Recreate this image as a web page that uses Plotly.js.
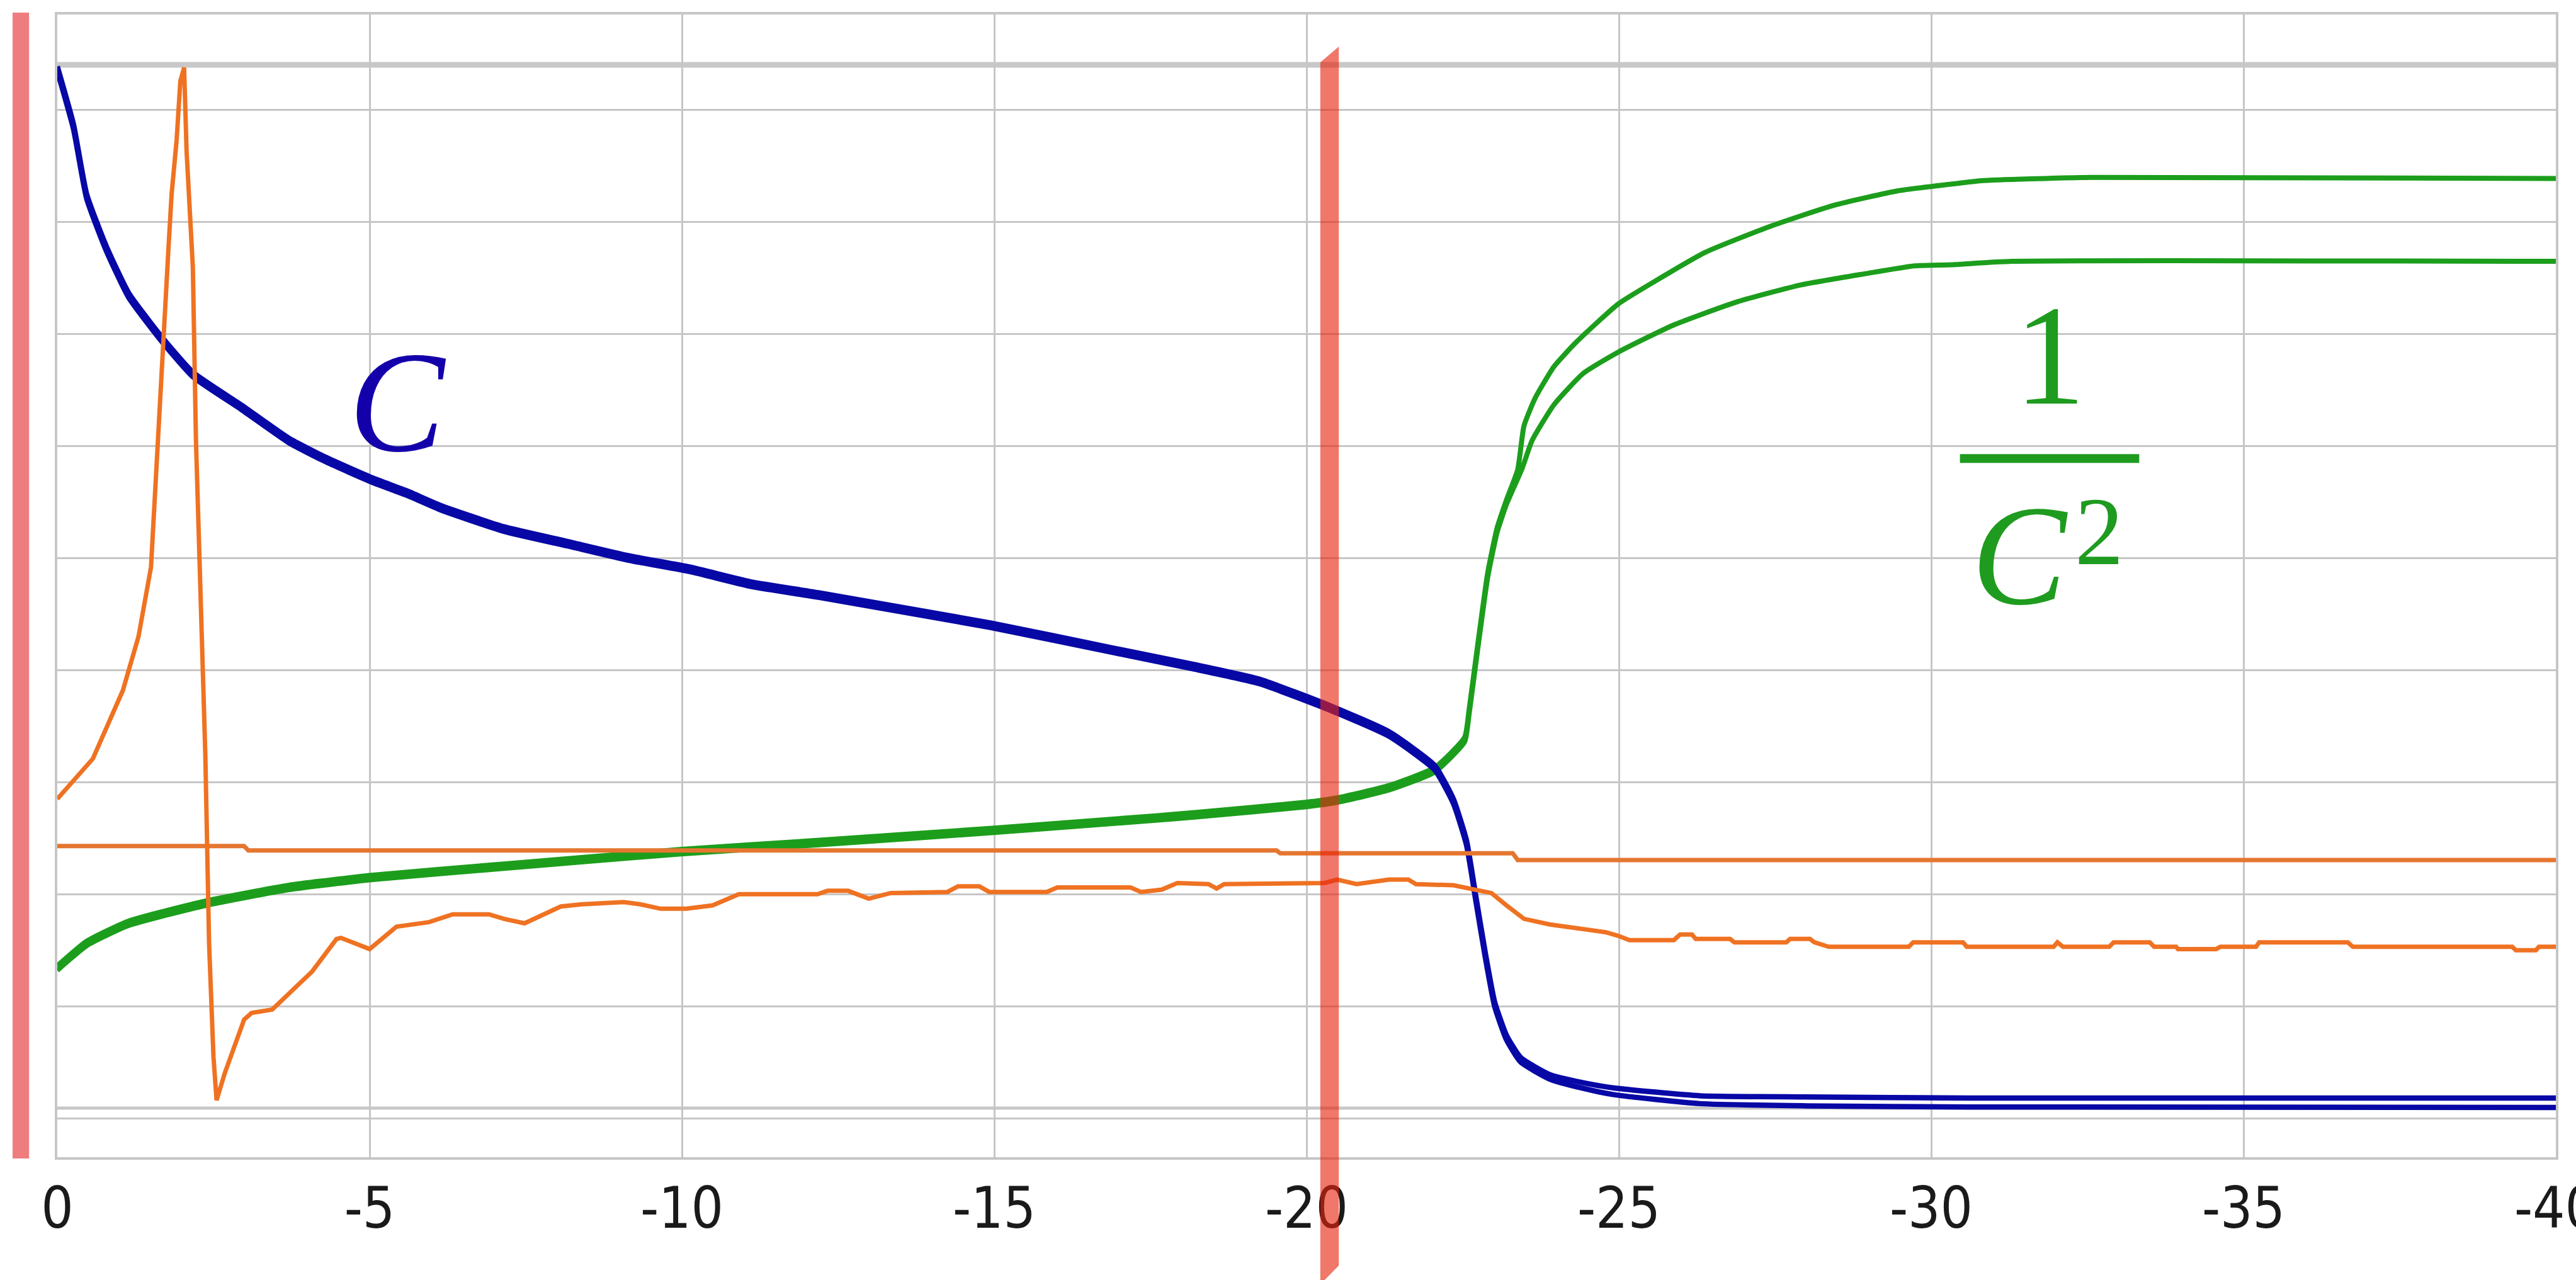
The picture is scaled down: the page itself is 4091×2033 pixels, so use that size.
<!DOCTYPE html>
<html>
<head>
<meta charset="utf-8">
<script src="https://cdn.plot.ly/plotly-3.0.1.min.js"></script>
<style>
  html, body { margin: 0; padding: 0; background: #ffffff; }
  #chart { width: 4091px; height: 2033px; }
</style>
</head>
<body>
<div id="chart"></div>
<script>
// ---------------- data ----------------
// x axis tick positions and labels
const xTicks = [0, -5, -10, -15, -20, -25, -30, -35, -40];
const xTickLabels = ['0', '-5', '-10', '-15', '-20', '-25', '-30', '-35', '-40'];
const yGrid = [0, 1, 2, 3, 4, 5, 6, 7, 8, 9];

// blue "C" curve (two nearly coincident traces)
const xC = [0, -0.26, -0.47, -0.78, -1.14, -1.65, -2.17, -2.94, -3.71, -4.3, -5.03, -5.6, -6.14, -7.15, -8.16, -9.16, -10.13, -11.09, -12.2, -13.02, -14.95, -16.88, -18.2, -19.24, -20.39, -21.32, -22.05, -22.35, -22.56, -22.71, -22.86, -23.01, -23.2, -23.43, -23.89, -24.4, -24.92, -26.3, -28.0, -30.6, -40];
const cUpper = [9.39, 8.87, 8.25, 7.79, 7.37, 6.99, 6.66, 6.37, 6.07, 5.90, 5.72, 5.60, 5.47, 5.28, 5.15, 5.02, 4.92, 4.79, 4.69, 4.61, 4.42, 4.20, 4.05, 3.92, 3.68, 3.45, 3.15, 2.85, 2.48, 1.98, 1.48, 1.04, 0.74, 0.54, 0.39, 0.32, 0.27, 0.20, 0.19, 0.18, 0.18];
const cLower = [9.35, 8.83, 8.21, 7.75, 7.33, 6.95, 6.62, 6.33, 6.03, 5.86, 5.68, 5.56, 5.43, 5.24, 5.11, 4.98, 4.88, 4.75, 4.65, 4.57, 4.38, 4.16, 4.01, 3.88, 3.64, 3.41, 3.11, 2.81, 2.44, 1.94, 1.44, 1.00, 0.70, 0.50, 0.35, 0.27, 0.21, 0.13, 0.11, 0.10, 0.096];

// green "1/C^2" curves (coincide until about -23.4, then split)
const xG1 = [0, -0.47, -1.14, -2.38, -3.71, -5.05, -7.15, -9.99, -12.16, -15.0, -17.59, -18.24, -19.98, -20.49, -21.32, -22.05, -22.53, -22.6, -22.75, -22.9, -23.05, -23.2, -23.38, -23.48, -23.66, -23.96, -24.32, -24.99, -25.57, -26.38, -27.41, -28.44, -29.47, -30.33, -30.8, -32.55, -40];
const g1 = [1.36, 1.58, 1.76, 1.94, 2.08, 2.17, 2.27, 2.40, 2.48, 2.59, 2.70, 2.73, 2.82, 2.86, 2.97, 3.13, 3.40, 3.64, 4.27, 4.87, 5.27, 5.52, 5.79, 6.18, 6.43, 6.71, 6.93, 7.27, 7.47, 7.73, 7.96, 8.15, 8.28, 8.34, 8.37, 8.40, 8.39];
const xG2 = [0, -0.47, -1.14, -2.38, -3.71, -5.05, -7.15, -9.99, -12.16, -15.0, -17.59, -18.24, -19.98, -20.49, -21.32, -22.05, -22.53, -22.6, -22.75, -22.9, -23.05, -23.2, -23.45, -23.61, -23.96, -24.43, -24.99, -25.87, -26.90, -27.92, -28.95, -29.73, -30.33, -31.29, -40];
const g2 = [1.32, 1.54, 1.72, 1.90, 2.04, 2.13, 2.23, 2.36, 2.44, 2.55, 2.66, 2.69, 2.78, 2.82, 2.93, 3.09, 3.36, 3.60, 4.23, 4.83, 5.23, 5.48, 5.80, 6.05, 6.37, 6.65, 6.84, 7.08, 7.29, 7.44, 7.54, 7.61, 7.62, 7.65, 7.65];

// orange curve with the spike
const xO = [0, -0.57, -1.05, -1.3, -1.5, -1.63, -1.68, -1.73, -1.78, -1.83, -1.91, -1.97, -2.03, -2.07, -2.17, -2.22, -2.30, -2.37, -2.40, -2.43, -2.50, -2.55, -2.68, -2.99, -3.11, -3.44, -4.08, -4.47, -4.54, -5.0, -5.43, -5.95, -6.33, -6.91, -7.15, -7.48, -8.06, -8.40, -9.07, -9.33, -9.66, -10.07, -10.49, -10.91, -12.17, -12.33, -12.66, -12.99, -13.34, -14.25, -14.42, -14.76, -14.92, -15.84, -16.01, -17.18, -17.35, -17.68, -17.93, -18.43, -18.56, -18.68, -20.29, -20.49, -20.8, -21.32, -21.63, -21.75, -22.35, -22.61, -22.96, -23.2, -23.48, -23.89, -24.41, -24.79, -24.98, -25.17, -25.88, -25.98, -26.17, -26.23, -26.78, -26.85, -27.68, -27.74, -28.06, -28.13, -28.36, -29.64, -29.71, -30.51, -30.57, -31.96, -32.02, -32.11, -32.85, -32.92, -33.50, -33.57, -33.92, -33.95, -34.56, -34.63, -35.2, -35.25, -36.67, -36.75, -39.3, -39.36, -39.68, -39.73, -40];
const oSpike = [2.85, 3.21, 3.82, 4.30, 4.92, 6.32, 6.72, 7.27, 7.77, 8.25, 8.73, 9.26, 9.38, 8.63, 7.60, 6.05, 4.60, 3.24, 2.40, 1.56, 0.55, 0.16, 0.40, 0.88, 0.94, 0.97, 1.31, 1.60, 1.61, 1.51, 1.71, 1.75, 1.82, 1.82, 1.78, 1.74, 1.89, 1.91, 1.93, 1.91, 1.87, 1.87, 1.90, 2.00, 2.00, 2.03, 2.03, 1.96, 2.01, 2.02, 2.07, 2.07, 2.02, 2.02, 2.06, 2.06, 2.02, 2.04, 2.10, 2.09, 2.05, 2.09, 2.10, 2.13, 2.09, 2.13, 2.13, 2.09, 2.08, 2.05, 2.01, 1.90, 1.78, 1.73, 1.69, 1.66, 1.63, 1.59, 1.59, 1.64, 1.64, 1.60, 1.60, 1.57, 1.57, 1.60, 1.60, 1.57, 1.53, 1.53, 1.57, 1.57, 1.53, 1.53, 1.57, 1.53, 1.53, 1.57, 1.57, 1.53, 1.53, 1.51, 1.51, 1.53, 1.53, 1.57, 1.57, 1.53, 1.53, 1.50, 1.50, 1.53, 1.53];

// nearly flat orange line
const xFlat = [0, -2.99, -3.06, -19.52, -19.58, -23.3, -23.38, -40];
const oFlat = [2.43, 2.43, 2.39, 2.39, 2.365, 2.365, 2.305, 2.305];

// ---------------- chart ----------------
const traces = [
  { x: xG1, y: g1, mode: 'lines', line: { color: '#1c9e1c', width: 8, shape: 'spline', smoothing: 0.5 }, hoverinfo: 'skip' },
  { x: xG2, y: g2, mode: 'lines', line: { color: '#1c9e1c', width: 8, shape: 'spline', smoothing: 0.5 }, hoverinfo: 'skip' },
  { x: xC, y: cUpper, mode: 'lines', line: { color: '#0808a6', width: 8.5, shape: 'spline', smoothing: 0.5 }, hoverinfo: 'skip' },
  { x: xC, y: cLower, mode: 'lines', line: { color: '#0808a6', width: 8.5, shape: 'spline', smoothing: 0.5 }, hoverinfo: 'skip' },
  { x: xFlat, y: oFlat, mode: 'lines', line: { color: '#e57630', width: 7 }, hoverinfo: 'skip' },
  { x: xO, y: oSpike, mode: 'lines', line: { color: '#ef7222', width: 7 }, hoverinfo: 'skip' }
];

const gridGray = '#c6c6c6';
const layout = {
  width: 4091,
  height: 2033,
  margin: { l: 91, r: 32, t: 23, b: 195, pad: 0 },
  paper_bgcolor: '#ffffff',
  plot_bgcolor: '#ffffff',
  showlegend: false,
  xaxis: {
    range: [0, -40],
    tickmode: 'array',
    tickvals: xTicks,
    ticktext: xTickLabels,
    showgrid: true,
    gridcolor: gridGray,
    gridwidth: 3,
    zeroline: false,
    showline: true,
    linecolor: gridGray,
    linewidth: 4,
    mirror: true,
    ticks: '',
    ticklabeloverflow: 'allow',
    tickfont: { family: 'Liberation Sans Narrow, DejaVu Sans Condensed, Liberation Sans, Arial, sans-serif', size: 90, color: '#1a1a1a' }
  },
  yaxis: {
    range: [-0.3485, 9.854],
    tickmode: 'array',
    tickvals: yGrid,
    showticklabels: false,
    showgrid: true,
    gridcolor: gridGray,
    gridwidth: 3,
    zeroline: false,
    showline: true,
    linecolor: gridGray,
    linewidth: 4,
    mirror: true,
    ticks: ''
  },
  shapes: [
    // thick gray line near the top
    { type: 'line', xref: 'paper', yref: 'y', x0: 0, x1: 1, y0: 9.404, y1: 9.404, line: { color: '#c8c8c8', width: 9 }, layer: 'below' },
    // thick gray line just above the bottom gridline
    { type: 'line', xref: 'paper', yref: 'y', x0: 0, x1: 1, y0: 0.09, y1: 0.09, line: { color: '#c8c8c8', width: 5 }, layer: 'below' },
    // pink marker bar on the left, outside the plot
    { type: 'rect', xref: 'paper', yref: 'paper', x0: -0.0179, x1: -0.0113, y0: -0.0011, y1: 1.0017, fillcolor: '#ee7d80', line: { width: 0 }, layer: 'above' },
    // semi-transparent red marker bar near -20
    { type: 'path', xref: 'paper', yref: 'paper', path: 'M 0.5055 0.9581 L 0.5129 0.9719 L 0.5129 -0.0948 L 0.5055 -0.1113 Z', fillcolor: 'rgb(230,35,15)', opacity: 0.62, line: { width: 0 }, layer: 'above' },
    // fraction bar of 1/C^2
    { type: 'line', xref: 'x', yref: 'y', x0: -30.46, x1: -33.33, y0: 5.89, y1: 5.89, line: { color: '#1f9b1f', width: 14 }, layer: 'above' }
  ],
  annotations: [
    { xref: 'x', yref: 'y', x: -5.45, y: 6.39, text: '<i>C</i>', showarrow: false, xanchor: 'center', yanchor: 'middle',
      font: { family: 'Liberation Serif, Times New Roman, serif', size: 228, color: '#1400aa' } },
    { xref: 'x', yref: 'y', x: -31.9, y: 6.81, text: '1', showarrow: false, xanchor: 'center', yanchor: 'middle',
      font: { family: 'Liberation Serif, Times New Roman, serif', size: 226, color: '#1f9b1f' } },
    { xref: 'x', yref: 'y', x: -31.42, y: 5.02, text: '<i>C</i>', showarrow: false, xanchor: 'center', yanchor: 'middle',
      font: { family: 'Liberation Serif, Times New Roman, serif', size: 226, color: '#1f9b1f' } },
    { xref: 'x', yref: 'y', x: -32.69, y: 5.24, text: '2', showarrow: false, xanchor: 'center', yanchor: 'middle',
      font: { family: 'Liberation Serif, Times New Roman, serif', size: 155, color: '#1f9b1f' } }
  ]
};

Plotly.newPlot('chart', traces, layout, { displayModeBar: false, staticPlot: true });
</script>
</body>
</html>
